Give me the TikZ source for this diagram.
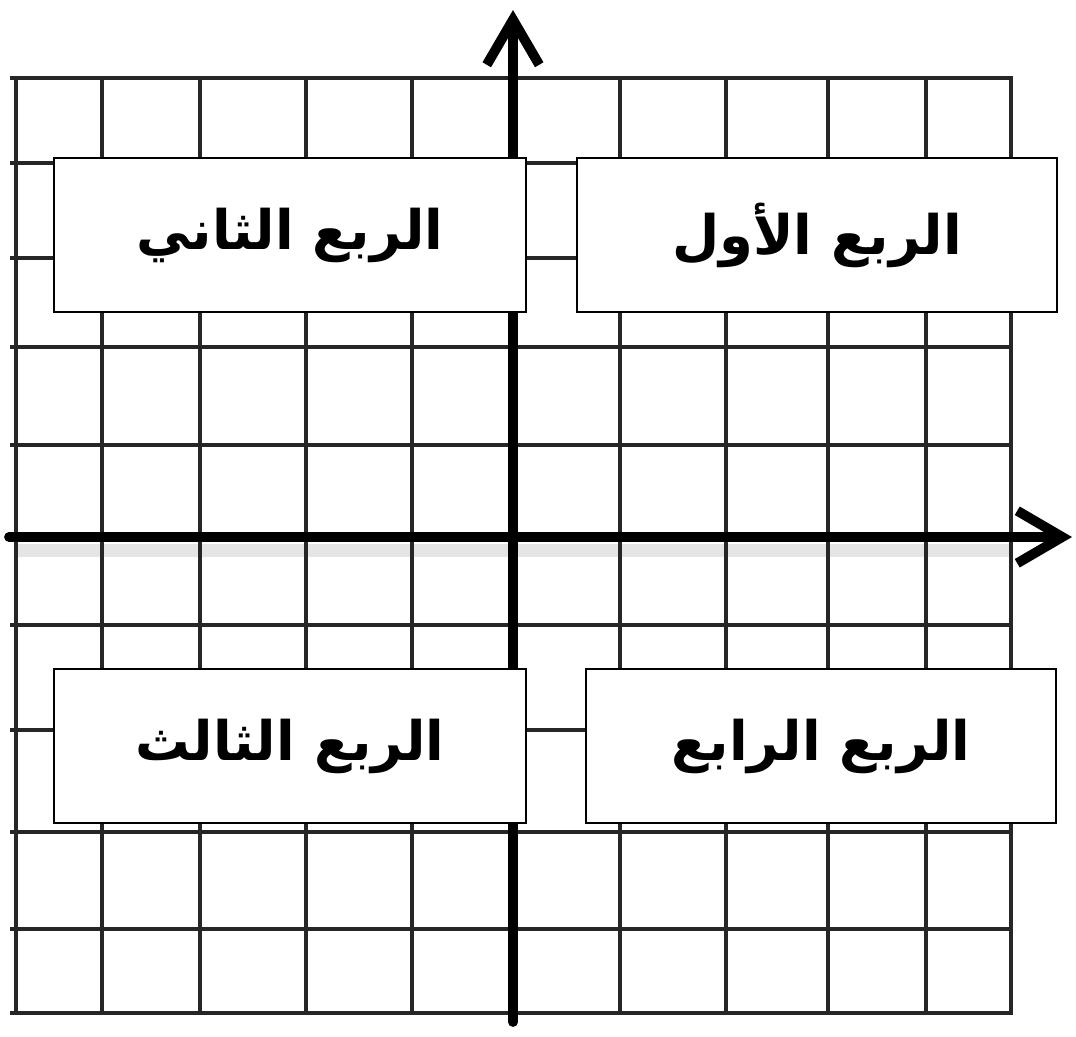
\documentclass[tikz,border=0pt]{standalone}
\usepackage{fontspec}
\newfontfamily\arabicfont[Script=Arabic]{DejaVu Sans}
\TeXXeTstate=1
\usetikzlibrary{arrows.meta}

\begin{document}
\begin{tikzpicture}[x=0.02cm, y=-0.02cm,
		gridline/.style={line width=2.2pt, black!85},
		axis/.style={line width=5.6pt, line cap=round, -{Straight Barb[length=0.9cm, width=1.05cm]}},
		quad/.style={draw, line width=1.1pt, fill=white, minimum height=3.08cm, inner sep=0pt,
			font=\arabicfont\bfseries\fontsize{31}{37}\selectfont}]
	\useasboundingbox (0,0) rectangle (1076,1036);
	
	% ==================== الشبكة ====================
	\draw[black!10, line width=0.26cm] (14,550) -- (1011,550); % ظل المحور
	\foreach \x in {16,102,200,306,412,620,726,828,926,1011}
		\draw[gridline] (\x,78) -- (\x,1013);
	\foreach \y in {78,163,258,347,445,625,730,832,929,1013}
		\draw[gridline] (10,\y) -- (1013,\y);
	
	% ==================== المحاور ====================
	\draw[axis] (9,537) -- (1072,537);
	\draw[axis] (513,1022) -- (513,10);
	
	% ==================== الأرباع ====================
	\node[quad, minimum width=9.6cm] (q1) at (817,235) {\beginR الربع الأول\endR};
	\node[quad, minimum width=9.44cm] (q2) at (290,235) {\beginR الربع الثاني\endR};
	\node[quad, minimum width=9.44cm] (q3) at (290,746) {\beginR الربع الثالث\endR};
	\node[quad, minimum width=9.42cm] (q4) at (821,746) {\beginR الربع الرابع\endR};
\end{tikzpicture}
\end{document}
